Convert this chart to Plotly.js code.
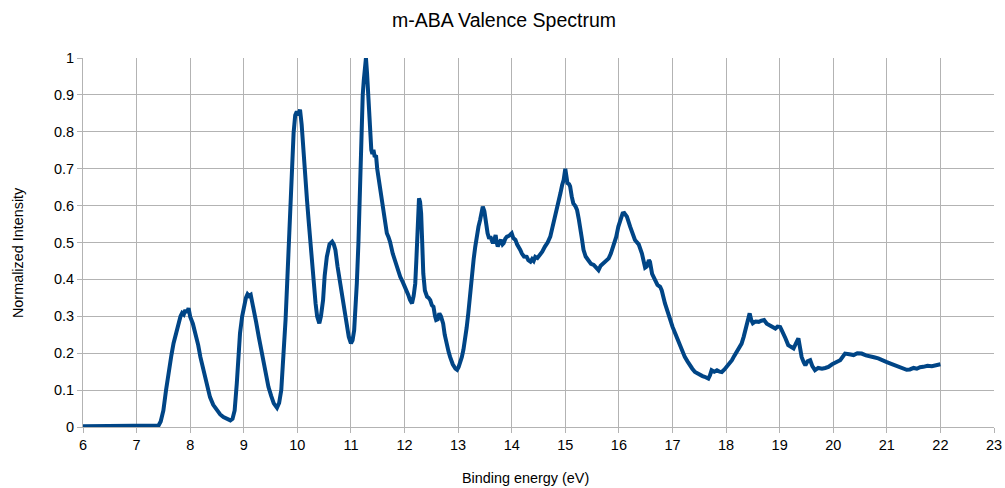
<!DOCTYPE html>
<html>
<head>
<meta charset="utf-8">
<script src="https://cdn.plot.ly/plotly-3.0.1.min.js"></script>
<style>
  html, body { margin: 0; padding: 0; background: #ffffff; }
  #chart { width: 1005px; height: 488px; }
</style>
</head>
<body>
<div id="chart"></div>
<script>
// Binding energy (eV) of each sample
const bindingEnergy = [
  6.0, 6.5, 7.0, 7.3, 7.41, 7.45, 7.50, 7.55, 7.60, 7.65, 7.69, 7.74, 7.78, 7.82, 7.85, 7.88, 7.91, 7.94, 7.97,
  8.00, 8.05, 8.10, 8.15, 8.19, 8.24, 8.28, 8.33, 8.37, 8.43, 8.50, 8.56, 8.62, 8.68, 8.75, 8.79, 8.83, 8.87, 8.90, 8.93, 8.97,
  9.00, 9.04, 9.07, 9.10, 9.13, 9.18, 9.23, 9.28, 9.33, 9.37, 9.42, 9.46, 9.51, 9.56, 9.62, 9.66, 9.70, 9.74, 9.78, 9.81, 9.84, 9.87, 9.90, 9.93, 9.96, 9.99,
  10.02, 10.05, 10.08, 10.12, 10.15, 10.18, 10.21, 10.24, 10.27, 10.30, 10.34, 10.37, 10.41, 10.44, 10.48, 10.51, 10.55, 10.60, 10.65, 10.68, 10.71, 10.75, 10.80, 10.85, 10.89, 10.93, 10.96,
  11.00, 11.03, 11.06, 11.09, 11.11, 11.14, 11.16, 11.18, 11.20, 11.22, 11.24, 11.26, 11.28, 11.30, 11.31, 11.34, 11.38, 11.40, 11.42, 11.44, 11.47, 11.49, 11.51, 11.55, 11.58, 11.63, 11.65, 11.67, 11.70, 11.73, 11.78, 11.83, 11.88, 11.92, 11.97,
  12.01, 12.05, 12.07, 12.10, 12.14, 12.17, 12.20, 12.22, 12.24, 12.26, 12.27, 12.29, 12.31, 12.33, 12.35, 12.38, 12.42, 12.45, 12.48, 12.51, 12.54, 12.57, 12.59, 12.62, 12.65, 12.68, 12.72, 12.75, 12.78, 12.82, 12.85, 12.90, 12.95, 12.98,
  13.01, 13.04, 13.07, 13.10, 13.13, 13.16, 13.19, 13.22, 13.26, 13.29, 13.32, 13.35, 13.38, 13.41, 13.44, 13.46, 13.49, 13.51, 13.53, 13.55, 13.58, 13.60, 13.63, 13.65, 13.68, 13.70, 13.72, 13.74, 13.77, 13.80, 13.83, 13.85, 13.88, 13.91, 13.95,
  14.00, 14.03, 14.07, 14.10, 14.13, 14.16, 14.19, 14.23, 14.28, 14.31, 14.35, 14.38, 14.41, 14.44, 14.48, 14.53, 14.57, 14.62, 14.67, 14.72, 14.77, 14.81, 14.86, 14.91, 14.94, 14.97,
  15.00, 15.02, 15.04, 15.07, 15.09, 15.12, 15.15, 15.19, 15.22, 15.25, 15.28, 15.31, 15.34, 15.38, 15.43, 15.48, 15.53, 15.57, 15.62, 15.66, 15.71, 15.76, 15.81, 15.85, 15.90, 15.95, 15.99,
  16.03, 16.07, 16.10, 16.15, 16.21, 16.27, 16.30, 16.37, 16.40, 16.43, 16.49, 16.52, 16.56, 16.58, 16.62, 16.68, 16.72, 16.77, 16.80, 16.86, 16.90, 16.96,
  17.00, 17.05, 17.10, 17.14, 17.18, 17.23, 17.28, 17.32, 17.37, 17.42, 17.46, 17.51, 17.56, 17.60, 17.64, 17.67, 17.70, 17.73, 17.78, 17.83, 17.88, 17.92, 17.97,
  18.01, 18.06, 18.11, 18.15, 18.20, 18.25, 18.29, 18.33, 18.37, 18.40, 18.44, 18.47, 18.50, 18.55, 18.61, 18.66, 18.71, 18.76, 18.82, 18.87, 18.92, 18.96,
  19.01, 19.04, 19.07, 19.11, 19.16, 19.21, 19.26, 19.30, 19.35, 19.38, 19.41, 19.45, 19.48, 19.52, 19.57, 19.61, 19.66, 19.72, 19.79, 19.85, 19.91, 19.98,
  20.04, 20.09, 20.13, 20.18, 20.22, 20.30, 20.38, 20.45, 20.53, 20.61, 20.69, 20.76, 20.84, 20.92,
  21.00, 21.07, 21.15, 21.23, 21.31, 21.37, 21.43, 21.50, 21.56, 21.62, 21.68, 21.76, 21.84, 21.92, 22.00
];

// Normalized photoelectron intensity at each energy
const intensity = [
  0.002, 0.002, 0.002, 0.003, 0.004, 0.015, 0.045, 0.100, 0.154, 0.195, 0.227, 0.258, 0.281, 0.300, 0.309, 0.305, 0.317, 0.310, 0.322,
  0.299, 0.280, 0.254, 0.222, 0.190, 0.160, 0.135, 0.105, 0.081, 0.060, 0.045, 0.034, 0.027, 0.022, 0.018, 0.022, 0.045, 0.118, 0.190, 0.254, 0.300,
  0.326, 0.350, 0.360, 0.355, 0.358, 0.326, 0.285, 0.244, 0.205, 0.173, 0.140, 0.109, 0.085, 0.064, 0.052, 0.065, 0.100, 0.190, 0.290, 0.390, 0.500, 0.615, 0.710, 0.797, 0.845, 0.855,
  0.845, 0.860, 0.820, 0.751, 0.680, 0.615, 0.560, 0.507, 0.440, 0.390, 0.335, 0.299, 0.281, 0.300, 0.344, 0.410, 0.461, 0.495, 0.502, 0.495, 0.480, 0.435, 0.390, 0.335, 0.299, 0.260, 0.244,
  0.227, 0.235, 0.262, 0.320, 0.390, 0.500, 0.615, 0.730, 0.841, 0.900, 0.940, 0.975, 1.000, 0.960, 0.933, 0.841, 0.751, 0.740, 0.751, 0.735, 0.733, 0.700, 0.679, 0.645, 0.615, 0.553, 0.535, 0.525, 0.515, 0.502, 0.470, 0.444, 0.420, 0.407, 0.392,
  0.380, 0.362, 0.358, 0.345, 0.335, 0.355, 0.389, 0.450, 0.507, 0.590, 0.620, 0.610, 0.579, 0.500, 0.416, 0.370, 0.353, 0.350, 0.344, 0.330, 0.326, 0.300, 0.290, 0.292, 0.308, 0.300, 0.281, 0.250, 0.226, 0.205, 0.190, 0.170, 0.158, 0.155,
  0.163, 0.175, 0.190, 0.210, 0.235, 0.270, 0.308, 0.360, 0.416, 0.455, 0.489, 0.520, 0.543, 0.561, 0.580, 0.597, 0.585, 0.570, 0.545, 0.525, 0.510, 0.516, 0.505, 0.498, 0.510, 0.520, 0.500, 0.489, 0.500, 0.507, 0.495, 0.498, 0.510, 0.516, 0.518,
  0.525, 0.512, 0.507, 0.495, 0.489, 0.480, 0.470, 0.462, 0.461, 0.452, 0.448, 0.455, 0.450, 0.461, 0.458, 0.466, 0.475, 0.489, 0.500, 0.516, 0.545, 0.570, 0.600, 0.634, 0.655, 0.670,
  0.700, 0.665, 0.661, 0.658, 0.652, 0.625, 0.606, 0.598, 0.588, 0.565, 0.543, 0.510, 0.480, 0.462, 0.452, 0.442, 0.439, 0.432, 0.425, 0.437, 0.444, 0.448, 0.457, 0.470, 0.489, 0.515, 0.543,
  0.565, 0.579, 0.580, 0.570, 0.543, 0.516, 0.507, 0.495, 0.485, 0.470, 0.432, 0.435, 0.452, 0.448, 0.415, 0.395, 0.385, 0.380, 0.370, 0.335, 0.315, 0.292,
  0.272, 0.254, 0.235, 0.217, 0.203, 0.190, 0.178, 0.167, 0.158, 0.149, 0.145, 0.140, 0.138, 0.136, 0.133, 0.131, 0.140, 0.154, 0.150, 0.154, 0.150, 0.149, 0.156,
  0.163, 0.172, 0.181, 0.192, 0.204, 0.214, 0.226, 0.245, 0.271, 0.292, 0.308, 0.290, 0.281, 0.286, 0.285, 0.288, 0.290, 0.280, 0.276, 0.270, 0.267, 0.272,
  0.271, 0.262, 0.254, 0.240, 0.222, 0.216, 0.213, 0.225, 0.240, 0.215, 0.190, 0.175, 0.167, 0.178, 0.181, 0.165, 0.154, 0.160, 0.158, 0.160, 0.163, 0.170,
  0.176, 0.178, 0.181, 0.192, 0.199, 0.197, 0.195, 0.200, 0.199, 0.194, 0.190, 0.189, 0.186, 0.180,
  0.176, 0.172, 0.167, 0.162, 0.158, 0.155, 0.156, 0.160, 0.158, 0.162, 0.163, 0.166, 0.165, 0.168, 0.170
];

const chartTitle = 'm-ABA Valence Spectrum';
const xTitle = 'Binding energy (eV)';
const yTitle = 'Normalized Intensity';

const gridGrey = '#b3b3b3';
const fontFamily = '"Liberation Sans", Arial, sans-serif';
const tickFont = { family: fontFamily, size: 14.5, color: '#000000' };
const axisTitleFont = { family: fontFamily, size: 14.4, color: '#000000' };

const trace = {
  x: bindingEnergy,
  y: intensity,
  type: 'scatter',
  mode: 'lines',
  line: { color: '#004586', width: 4 },
  hoverinfo: 'x+y'
};

const layout = {
  width: 1005,
  height: 488,
  margin: { l: 83, r: 11, t: 58, b: 61 },
  paper_bgcolor: '#ffffff',
  plot_bgcolor: '#ffffff',
  showlegend: false,
  title: {
    text: chartTitle,
    font: { family: fontFamily, size: 19.5, color: '#000000' },
    x: 0.5015, xanchor: 'center', xref: 'container',
    y: 0.959, yref: 'container', yanchor: 'middle'
  },
  xaxis: {
    range: [6, 23],
    dtick: 1,
    tick0: 6,
    showgrid: true,
    gridcolor: gridGrey,
    gridwidth: 1,
    showline: true,
    linecolor: gridGrey,
    linewidth: 1,
    zeroline: false,
    ticks: 'outside',
    ticklen: 5,
    tickcolor: gridGrey,
    tickfont: tickFont
  },
  yaxis: {
    range: [0, 1],
    dtick: 0.1,
    tick0: 0,
    showgrid: true,
    gridcolor: gridGrey,
    gridwidth: 1,
    showline: true,
    linecolor: gridGrey,
    linewidth: 1,
    zeroline: false,
    ticks: 'outside',
    ticklen: 5,
    tickcolor: gridGrey,
    tickfont: tickFont
  },
  // Axis captions placed as annotations so their positions can be set exactly
  annotations: [
    {
      text: xTitle, font: axisTitleFont, showarrow: false,
      xref: 'paper', yref: 'paper', x: 0.486, y: -0.138,
      xanchor: 'center', yanchor: 'middle'
    },
    {
      text: yTitle, font: axisTitleFont, showarrow: false, textangle: -90,
      xref: 'paper', yref: 'paper', x: -0.0714, y: 0.474,
      xanchor: 'center', yanchor: 'middle'
    }
  ]
};

Plotly.newPlot('chart', [trace], layout, { displayModeBar: false, staticPlot: true });
</script>
</body>
</html>
